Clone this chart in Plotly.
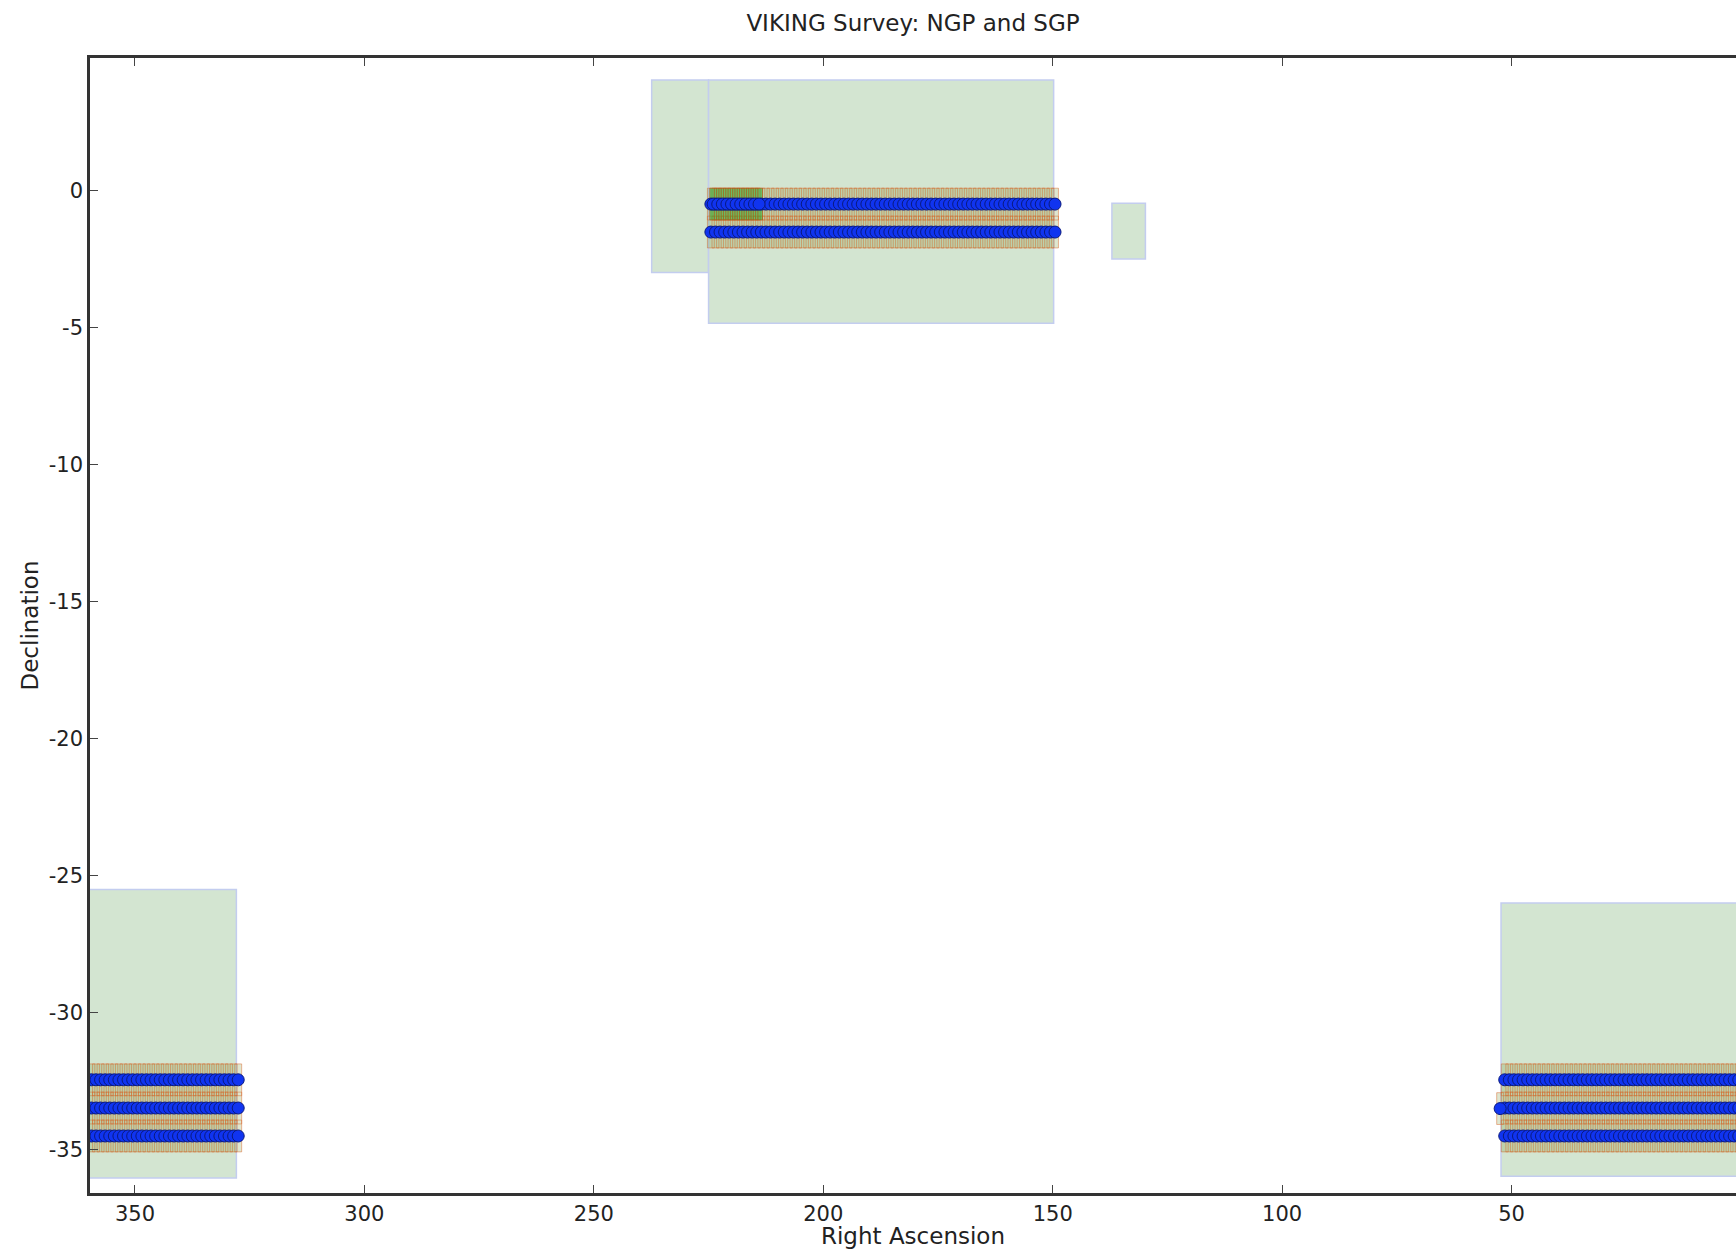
import plotly.graph_objects as go

# ---------------- data ----------------
# survey region boxes (RA from, RA to, Dec from, Dec to)
region_ra_a = [237.4, 225.0, 137.1, 360.5, 52.3]
region_ra_b = [225.0, 149.8, 129.8, 327.9, -10.0]
region_dec_a = [-3.0, -4.85, -2.5, -36.03, -35.97]
region_dec_b = [4.03, 4.03, -0.47, -25.51, -26.0]

# observed tile centres
ngp_ra = [224.5, 223.5, 222.5, 221.5, 220.5, 219.5, 218.5, 217.5, 216.5, 215.5,
          214.5, 213.5, 212.5, 211.5, 210.5, 209.5, 208.5, 207.5, 206.5, 205.5,
          204.5, 203.5, 202.5, 201.5, 200.5, 199.5, 198.5, 197.5, 196.5, 195.5,
          194.5, 193.5, 192.5, 191.5, 190.5, 189.5, 188.5, 187.5, 186.5, 185.5,
          184.5, 183.5, 182.5, 181.5, 180.5, 179.5, 178.5, 177.5, 176.5, 175.5,
          174.5, 173.5, 172.5, 171.5, 170.5, 169.5, 168.5, 167.5, 166.5, 165.5,
          164.5, 163.5, 162.5, 161.5, 160.5, 159.5, 158.5, 157.5, 156.5, 155.5,
          154.5, 153.5, 152.5, 151.5, 150.5, 149.5]
ngp_dec = [-0.5, -1.52]

ngp_deep_ra = [224.0, 223.0, 222.0, 221.0, 220.0, 219.0, 218.0, 217.0, 216.0, 215.0, 214.0]
ngp_deep_dec = [-0.5]

sgp_west_ra = [359.5, 358.5, 357.5, 356.5, 355.5, 354.5, 353.5, 352.5, 351.5, 350.5,
               349.5, 348.5, 347.5, 346.5, 345.5, 344.5, 343.5, 342.5, 341.5, 340.5,
               339.5, 338.5, 337.5, 336.5, 335.5, 334.5, 333.5, 332.5, 331.5, 330.5,
               329.5, 328.5, 327.5]
sgp_east_ra = [51.5, 50.5, 49.5, 48.5, 47.5, 46.5, 45.5, 44.5, 43.5, 42.5,
               41.5, 40.5, 39.5, 38.5, 37.5, 36.5, 35.5, 34.5, 33.5, 32.5,
               31.5, 30.5, 29.5, 28.5, 27.5, 26.5, 25.5, 24.5, 23.5, 22.5,
               21.5, 20.5, 19.5, 18.5, 17.5, 16.5, 15.5, 14.5, 13.5, 12.5,
               11.5, 10.5, 9.5, 8.5, 7.5, 6.5, 5.5, 4.5, 3.5, 2.5, 1.5, 0.5]
sgp_east_extra_ra = [52.5]
sgp_east_extra_dec = [-33.5]
sgp_dec = [-32.45, -33.48, -34.5]

x_ticks = [350, 300, 250, 200, 150, 100, 50, 0]
x_tick_text = ["350", "300", "250", "200", "150", "100", "50", "0"]
y_ticks = [0, -5, -10, -15, -20, -25, -30, -35]
y_tick_text = ["0", "-5", "-10", "-15", "-20", "-25", "-30", "-35"]

# ---------------- style ----------------
TILE_HW = 0.75
TILE_HH = 0.58
TICK_FONT = dict(family="DejaVu Sans", size=21, color="#222")
TITLE_FONT = dict(family="DejaVu Sans", size=23, color="#222")


def grid(ras, decs):
    xs, ys = [], []
    for d in decs:
        for r in ras:
            xs.append(r)
            ys.append(d)
    return xs, ys


def tiles(xs, ys):
    px, py = [], []
    for r, d in zip(xs, ys):
        px += [r - TILE_HW, r + TILE_HW, r + TILE_HW, r - TILE_HW, r - TILE_HW, None]
        py += [d - TILE_HH, d - TILE_HH, d + TILE_HH, d + TILE_HH, d - TILE_HH, None]
    return px, py


main_sets = [grid(ngp_ra, ngp_dec), grid(sgp_west_ra, sgp_dec), grid(sgp_east_ra, sgp_dec),
             grid(sgp_east_extra_ra, sgp_east_extra_dec)]
all_x = sum([s[0] for s in main_sets], [])
all_y = sum([s[1] for s in main_sets], [])
deep_x, deep_y = grid(ngp_deep_ra, ngp_deep_dec)

fig = go.Figure()

for a, b, c, d in zip(region_ra_a, region_ra_b, region_dec_a, region_dec_b):
    fig.add_shape(type="rect", x0=a, x1=b, y0=c, y1=d, layer="below",
                  fillcolor="#d3e5d1", line=dict(color="#c3cdef", width=1.5))

tx, ty = tiles(all_x, all_y)
fig.add_trace(go.Scatter(x=tx, y=ty, mode="lines", fill="toself",
                         fillcolor="rgba(110,140,40,0.22)",
                         line=dict(color="rgba(215,95,30,0.45)", width=1),
                         hoverinfo="skip", showlegend=False))
dtx, dty = tiles(deep_x, deep_y)
fig.add_trace(go.Scatter(x=dtx, y=dty, mode="lines", fill="toself",
                         fillcolor="rgba(40,170,40,0.55)",
                         line=dict(color="rgba(190,80,20,0.55)", width=1),
                         hoverinfo="skip", showlegend=False))

fig.add_trace(go.Scatter(x=all_x, y=all_y, mode="markers",
                         marker=dict(size=12, color="#1034f0",
                                     line=dict(color="#0a1a80", width=1)),
                         showlegend=False))
fig.add_trace(go.Scatter(x=deep_x, y=deep_y, mode="markers",
                         marker=dict(size=12, color="#1034f0",
                                     line=dict(color="#0a1a80", width=1)),
                         showlegend=False))

fig.update_layout(
    width=1736, height=1249,
    margin=dict(l=90, r=0, t=58, b=56),
    paper_bgcolor="white", plot_bgcolor="white",
    font=TICK_FONT,
    title=dict(text="VIKING Survey: NGP and SGP", x=0.5, xref="paper",
               y=0.982, yref="container", yanchor="middle", font=TITLE_FONT),
    xaxis=dict(range=[359.8, 1.1], tickvals=x_ticks, ticktext=x_tick_text,
               ticks="inside", ticklen=8,
               tickcolor="#444", showgrid=False, zeroline=False,
               showline=True, linecolor="#333", linewidth=2.5, mirror="ticks",
               title=dict(text="Right Ascension", standoff=2, font=TITLE_FONT),
               tickfont=TICK_FONT),
    yaxis=dict(range=[-36.58, 4.83], tickvals=y_ticks, ticktext=y_tick_text,
               ticks="inside", ticklen=8,
               tickcolor="#444", showgrid=False, zeroline=False,
               showline=True, linecolor="#333", linewidth=2.5,
               title=dict(text="Declination", standoff=4, font=TITLE_FONT),
               tickfont=TICK_FONT),
)

fig.write_html("out.html")
